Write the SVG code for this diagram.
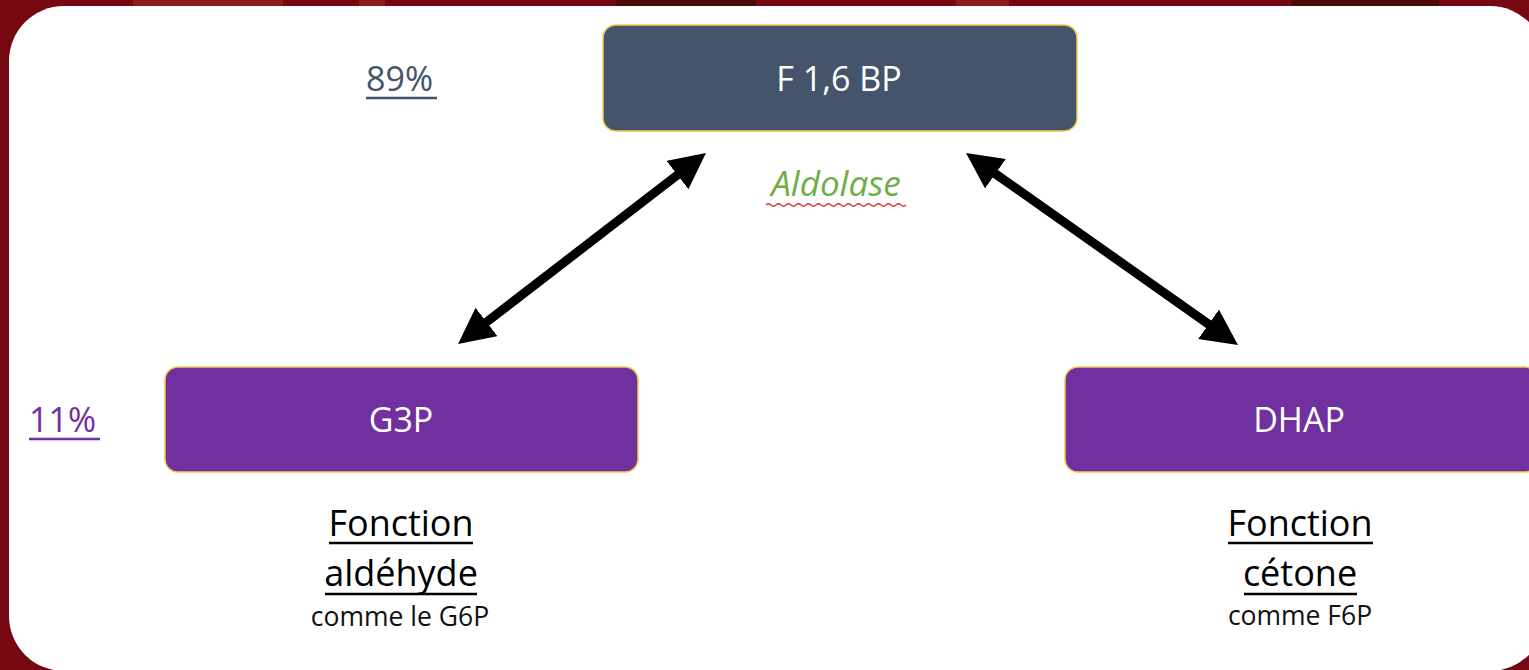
<svg xmlns="http://www.w3.org/2000/svg" width="1529" height="670" viewBox="0 0 1529 670">
<defs>
<style>
.t{font-family:"Open Sans","Noto Sans",sans-serif}
.nl{font-size:34px;fill:#ffffff;text-anchor:middle}
.big{font-size:36px;fill:#000;text-anchor:middle}
.sm{font-size:26.5px;fill:#111;text-anchor:middle}
.ul{stroke-width:2.5}
.arr{stroke:#000;stroke-width:9;fill:none}
</style>
<marker id="ah" viewBox="0 0 10 10" refX="1" refY="5" markerWidth="4" markerHeight="4" orient="auto-start-reverse" markerUnits="strokeWidth">
<path d="M0,0 L10,5 L0,10 Z" fill="#000"/>
</marker>
</defs>
<rect x="0" y="0" width="1529" height="670" fill="#760812"/>
<rect x="133" y="0" width="150" height="6" fill="#8a1c1c"/>
<rect x="359" y="0" width="26" height="6" fill="#8a1c1c"/>
<rect x="616" y="0" width="140" height="6" fill="#4b0a0b"/>
<rect x="956" y="0" width="53" height="6" fill="#8a1c1c"/>
<rect x="1291" y="0" width="148" height="6" fill="#4b0a0b"/>
<rect x="9" y="6" width="1536" height="665" rx="55" fill="#ffffff"/>

<g id="connectors">
<line class="arr" x1="483.7" y1="324.2" x2="680.3" y2="172.8" marker-start="url(#ah)" marker-end="url(#ah)"/>
<line class="arr" x1="992.5" y1="171.7" x2="1211.5" y2="326.3" marker-start="url(#ah)" marker-end="url(#ah)"/>
</g>

<g id="f16bp">
<rect x="603" y="25" width="474" height="106" rx="13" fill="#44546a" stroke="#f2c94c" stroke-width="1.5"/>
<text class="t nl" x="839" y="91">F 1,6 BP</text>
</g>

<g id="g3p">
<rect x="165" y="367" width="473" height="105" rx="13" fill="#7030a0" stroke="#f2c94c" stroke-width="1.5"/>
<text class="t nl" x="401" y="432">G3P</text>
</g>

<g id="dhap">
<rect x="1065" y="367" width="473" height="105" rx="13" fill="#7030a0" stroke="#f2c94c" stroke-width="1.5"/>
<text class="t nl" x="1299" y="432">DHAP</text>
</g>

<g id="pct89">
<text class="t" x="366" y="91" font-size="34" fill="#44546a">89%</text>
<line x1="366" y1="98" x2="437" y2="98" stroke="#44546a" class="ul"/>
</g>

<g id="pct11">
<text class="t" x="29" y="432" font-size="34" fill="#7030a0">11%</text>
<line x1="29" y1="439" x2="100" y2="439" stroke="#7030a0" class="ul"/>
</g>

<g id="aldolase">
<text class="t" x="836" y="196" font-size="35" font-style="italic" fill="#70ad47" text-anchor="middle">Aldolase</text>
<path d="M766,205 q2.5,-2.5 5,0 t5,0 t5,0 t5,0 t5,0 t5,0 t5,0 t5,0 t5,0 t5,0 t5,0 t5,0 t5,0 t5,0 t5,0 t5,0 t5,0 t5,0 t5,0 t5,0 t5,0 t5,0 t5,0 t5,0 t5,0 t5,0 t5,0 t5,0" fill="none" stroke="#e0303c" stroke-width="1.2"/>
</g>

<g id="label-left">
<text class="t big" x="401" y="536">Fonction</text>
<line x1="329" y1="543" x2="473" y2="543" stroke="#000" class="ul"/>
<text class="t big" x="401" y="586">aldéhyde</text>
<line x1="325" y1="594" x2="477" y2="594" stroke="#000" class="ul"/>
<text class="t sm" x="400" y="626">comme le G6P</text>
</g>

<g id="label-right">
<text class="t big" x="1300" y="536">Fonction</text>
<line x1="1228" y1="543" x2="1373" y2="543" stroke="#000" class="ul"/>
<text class="t big" x="1300" y="586">cétone</text>
<line x1="1244" y1="594" x2="1357" y2="594" stroke="#000" class="ul"/>
<text class="t sm" x="1300" y="625">comme F6P</text>
</g>
</svg>
